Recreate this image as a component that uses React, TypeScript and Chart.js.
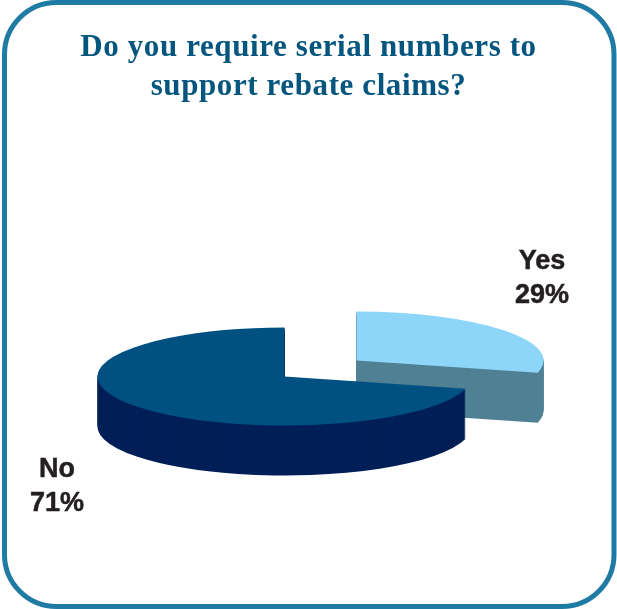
import React, { useEffect, useRef } from "react";
import { Chart, registerables } from "chart.js";

Chart.register(...registerables);

const categories = ["Yes", "No"];
const shares = [29, 71];
const topColors = ["#8dd6f9", "#005082"];
const wallColors = ["#508094", "#001f57"];
const titleLines = ["Do you require serial numbers to", "support rebate claims?"];

const WIDTH = 617;
const HEIGHT = 609;
const RADIUS = 187;
const SQUASH = 49 / 187;
const DEPTH = 50;
const sliceCentres = [
  { x: 356.5, y: 360.5 },
  { x: 284.5, y: 376.5 },
];
const labelAnchors = [
  { x: 542, y: 268.5 },
  { x: 57, y: 476.5 },
];

const pie3d = {
  id: "pie3d",
  beforeDraw(chart: any) {
    const ctx = chart.ctx;
    ctx.save();
    ctx.fillStyle = "#ffffff";
    ctx.fillRect(0, 0, WIDTH, HEIGHT);
    ctx.strokeStyle = "#1f7aa4";
    ctx.lineWidth = 5;
    ctx.beginPath();
    ctx.roundRect(4.5, 2.5, 609.5, 604, 52);
    ctx.stroke();
    ctx.restore();
    ctx.letterSpacing = "0.6px";
  },
  beforeDatasetsDraw(chart: any) {
    const ctx = chart.ctx;
    ctx.letterSpacing = "0px";
    const arcs = chart.getDatasetMeta(0).data;
    arcs.forEach((arc: any, i: number) => {
      const c = sliceCentres[i];
      const base = arc.options;
      const place = (dy: number) => {
        ctx.save();
        ctx.translate(c.x, c.y + dy);
        ctx.scale(1, SQUASH);
        ctx.translate(-arc.x, -arc.y);
      };
      arc.options = { ...base, backgroundColor: wallColors[i], borderWidth: 0 };
      for (let dy = DEPTH; dy >= 1; dy--) {
        place(dy);
        arc.draw(ctx);
        ctx.restore();
      }
      arc.options = { ...base, backgroundColor: topColors[i], borderWidth: 0 };
      place(0);
      arc.draw(ctx);
      ctx.restore();
      arc.options = base;
    });
    return false;
  },
  afterDraw(chart: any) {
    const ctx = chart.ctx;
    ctx.save();
    ctx.font = 'bold 27px "Liberation Sans"';
    ctx.fillStyle = "#231f20";
    ctx.strokeStyle = "#231f20";
    ctx.lineWidth = 0.5;
    ctx.textAlign = "center";
    ctx.textBaseline = "alphabetic";
    categories.forEach((name, i) => {
      const a = labelAnchors[i];
      const pct = `${shares[i]}%`;
      ctx.fillText(name, a.x, a.y);
      ctx.strokeText(name, a.x, a.y);
      ctx.fillText(pct, a.x, a.y + 34.5);
      ctx.strokeText(pct, a.x, a.y + 34.5);
    });
    ctx.restore();
  },
};

export default function App() {
  const ref = useRef<HTMLCanvasElement>(null);
  useEffect(() => {
    const chart = new Chart(ref.current!, {
      type: "pie",
      data: {
        labels: categories,
        datasets: [{ data: shares, backgroundColor: topColors, borderWidth: 0, radius: RADIUS }],
      },
      options: {
        responsive: false,
        animation: false,
        events: [],
        layout: { padding: 0 },
        plugins: {
          legend: { display: false },
          tooltip: { enabled: false },
          title: {
            display: true,
            text: titleLines,
            color: "#04567f",
            font: { family: '"Liberation Serif"', size: 31, weight: "bold", lineHeight: 1.24 },
            padding: { top: 29, bottom: 0 },
          },
        },
      },
      plugins: [pie3d],
    } as any);
    return () => chart.destroy();
  }, []);
  return (
    <div style={{ position: "absolute", left: 0, top: 0, width: WIDTH, height: HEIGHT }}>
      <canvas ref={ref} width={WIDTH} height={HEIGHT} style={{ display: "block" }} />
    </div>
  );
}
